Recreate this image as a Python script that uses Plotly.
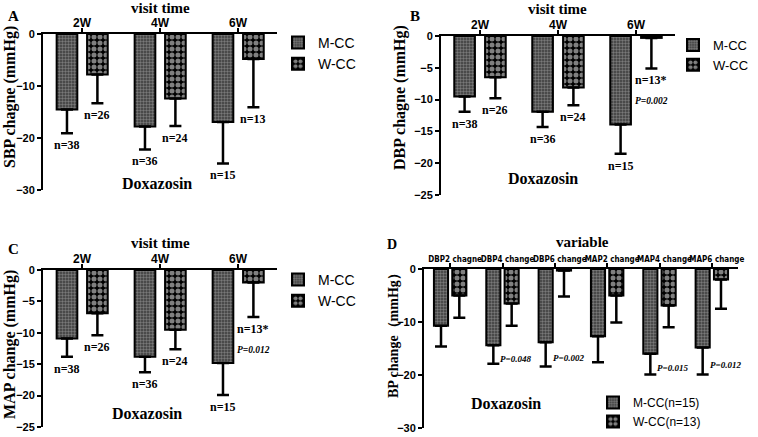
import plotly.graph_objects as go

W, H = 758, 437

# ---------------- data ----------------
weeks = ["2W", "4W", "6W"]
sbp_m = [-14.5, -17.8, -16.9]
sbp_m_sd = [4.6, 4.4, 8.0]
sbp_w = [-7.8, -12.4, -4.8]
sbp_w_sd = [5.5, 5.3, 9.3]
sbp_m_n = ["n=38", "n=36", "n=15"]
sbp_w_n = ["n=26", "n=24", "n=13"]

dbp_m = [-9.5, -11.9, -13.9]
dbp_m_sd = [2.4, 2.4, 4.6]
dbp_w = [-6.5, -8.1, -0.3]
dbp_w_sd = [3.3, 2.8, 4.8]
dbp_m_n = ["n=38", "n=36", "n=15"]
dbp_w_n = ["n=26", "n=24", "n=13*"]

map_m = [-10.9, -13.8, -14.8]
map_m_sd = [2.9, 2.5, 5.1]
map_w = [-6.9, -9.5, -2.0]
map_w_sd = [3.5, 3.1, 5.5]
map_m_n = ["n=38", "n=36", "n=15"]
map_w_n = ["n=26", "n=24", "n=13*"]

variables = ["DBP2 chagne", "DBP4 change", "DBP6 change",
             "MAP2 change", "MAP4 change", "MAP6 change"]
var_m = [-10.7, -14.4, -13.8, -12.7, -16.0, -14.8]
var_m_sd = [3.9, 3.5, 4.6, 4.9, 3.9, 5.1]
var_w = [-5.0, -6.5, -0.3, -5.0, -6.9, -2.0]
var_w_sd = [4.2, 4.2, 4.9, 5.1, 4.1, 5.5]
var_p = ["", "P=0.048", "P=0.002", "", "P=0.015", "P=0.012"]

SERIF = "Liberation Serif"
SANS = "Liberation Sans"
NARROW = "DejaVu Sans Condensed, Liberation Sans"

M_PATTERN = dict(shape=".", bgcolor="#3a3a3a", fgcolor="#b8b8b8", size=3, solidity=0.5)
W_PATTERN = dict(shape=".", bgcolor="#000000", fgcolor="#ffffff", size=6, solidity=0.55)


def px_x(p):
    return p / W


def px_y(p):
    return 1 - p / H


fig = go.Figure()

# panel geometry (pixels) : x0, x1, y_top, y_bottom
panels = [
    dict(k="", x=(43, 277), y=(34, 190), rng=[-30, 0], dt=10),
    dict(k="2", x=(441, 675), y=(36, 195), rng=[-25, 0], dt=5),
    dict(k="3", x=(43, 277), y=(270, 427), rng=[-25, 0], dt=5),
    dict(k="4", x=(424, 738), y=(269, 428), rng=[-30, 0], dt=10),
]

series = [
    (weeks, sbp_m, sbp_m_sd, sbp_w, sbp_w_sd, "M-CC", "W-CC"),
    (weeks, dbp_m, dbp_m_sd, dbp_w, dbp_w_sd, "M-CC", "W-CC"),
    (weeks, map_m, map_m_sd, map_w, map_w_sd, "M-CC", "W-CC"),
    (variables, var_m, var_m_sd, var_w, var_w_sd, "M-CC(n=15)", "W-CC(n=13)"),
]

bw = {"": 0.265, "2": 0.265, "3": 0.265, "4": 0.27}
offm = {"": -0.325, "2": -0.33, "3": -0.325, "4": -0.31}
offw = {"": 0.065, "2": 0.065, "3": 0.065, "4": 0.04}

layout_axes = {}
for i, (pn, (cats, m, msd, w, wsd, nm, nw)) in enumerate(zip(panels, series)):
    k = pn["k"]
    xa = "x" + k
    ya = "y" + k
    leg = "legend" + k if k else "legend"
    fig.add_trace(go.Bar(
        x=cats, y=m, name=nm, xaxis=xa, yaxis=ya, legend=leg,
        width=bw[k], offset=offm[k],
        marker=dict(pattern=M_PATTERN, line=dict(color="black", width=2)),
        error_y=dict(type="data", symmetric=False, array=[0] * len(m), arrayminus=msd,
                     color="black", thickness=2.5, width=6),
    ))
    fig.add_trace(go.Bar(
        x=cats, y=w, name=nw, xaxis=xa, yaxis=ya, legend=leg,
        width=bw[k], offset=offw[k],
        marker=dict(pattern=W_PATTERN, line=dict(color="black", width=2)),
        error_y=dict(type="data", symmetric=False, array=[0] * len(w), arrayminus=wsd,
                     color="black", thickness=2.5, width=6),
    ))
    xdom = [px_x(pn["x"][0]), px_x(pn["x"][1])]
    ydom = [px_y(pn["y"][1]), px_y(pn["y"][0])]
    layout_axes["xaxis" + k] = dict(
        domain=xdom, anchor=ya, side="top", type="category", automargin=False,
        categoryorder="array", categoryarray=cats, range=[-0.5, len(cats) - 0.5],
        showline=True, linecolor="black", linewidth=2, mirror=False,
        ticks="outside", ticklen=4, tickwidth=2, tickcolor="black", tickangle=0,
        ticklabelstandoff=-4 if k != "4" else -2,
        ticklabelshift=0 if k != "4" else 5,
        showgrid=False, zeroline=False,
        tickfont=(dict(family=SANS, size=12, color="black", weight="bold") if k != "4"
                  else dict(family=NARROW, size=8, color="black", weight="bold")),
    )
    layout_axes["yaxis" + k] = dict(
        domain=ydom, anchor=xa, range=pn["rng"], dtick=pn["dt"], automargin=False,
        showline=True, linecolor="black", linewidth=2,
        ticks="outside", ticklen=4, tickwidth=2, tickcolor="black",
        showgrid=False, zeroline=False,
        tickfont=dict(family=SANS, size=11, color="black", weight="bold"),
    )

fig.update_layout(**layout_axes)

# legends
leg_common = dict(xanchor="left", yanchor="top", bgcolor="rgba(0,0,0,0)",
                  font=dict(family=SANS, size=14, color="black"),
                  tracegroupgap=0, itemwidth=30)
fig.update_layout(
    legend=dict(x=px_x(278), y=px_y(27), **leg_common),
    legend2=dict(x=px_x(673), y=px_y(30), **{**leg_common, "font": dict(family=SANS, size=13, color="black")}),
    legend3=dict(x=px_x(278), y=px_y(264), **leg_common),
    legend4=dict(x=px_x(593), y=px_y(388), **{**leg_common, "font": dict(family=SANS, size=12, color="black")}),
    barmode="overlay",
    width=W, height=H,
    margin=dict(l=0, r=0, t=0, b=0, autoexpand=False),
    paper_bgcolor="white", plot_bgcolor="white",
    showlegend=True,
)

ann = []


def text(x, y, s, size=15, fam=SERIF, bold=True, italic=False, angle=0, xa="center", ya="middle"):
    ann.append(dict(x=px_x(x), y=px_y(y), xref="paper", yref="paper", text=s, showarrow=False,
                    xanchor=xa, yanchor=ya, textangle=angle,
                    font=dict(family=fam, size=size, color="black",
                              weight="bold" if bold else "normal",
                              style="italic" if italic else "normal")))


# titles
text(160, 8, "visit time", 15)
text(557, 9, "visit time", 15)
text(160, 243, "visit time", 15)
text(582, 242, "variable", 15)
text(13, 16, "A", 15)
text(415, 16, "B", 15)
text(13, 249, "C", 15)
text(392, 244, "D", 14)
text(157, 183, "Doxazosin", 16)
text(543, 178, "Doxazosin", 16)
text(147, 413, "Doxazosin", 16)
text(506, 403, "Doxazosin", 16)
text(10, 97, "SBP chagne (mmHg)", 16, angle=-90)
text(400, 98, "DBP chagne (mmHg)", 16, angle=-90)
text(10, 345, "MAP change (mmHg)", 16, angle=-90)
text(393, 332, "BP change（mmHg）", 14, angle=-90)

# n labels under error bars (data coords)
n_sets = [
    ("", weeks, sbp_m, sbp_m_sd, sbp_w, sbp_w_sd, sbp_m_n, sbp_w_n),
    ("2", weeks, dbp_m, dbp_m_sd, dbp_w, dbp_w_sd, dbp_m_n, dbp_w_n),
    ("3", weeks, map_m, map_m_sd, map_w, map_w_sd, map_m_n, map_w_n),
]
for k, cats, m, msd, w, wsd, mn, wn in n_sets:
    for j in range(len(cats)):
        for val, sd, lab, off in ((m[j], msd[j], mn[j], offm[k]), (w[j], wsd[j], wn[j], offw[k])):
            ann.append(dict(x=j + off + bw[k] / 2, y=val - sd, xref="x" + k, yref="y" + k,
                            text=lab, showarrow=False, xanchor="center", yanchor="top", yshift=-3,
                            font=dict(family=SERIF, size=12, color="black", weight="bold")))

# P values for panels B and C (below the W-CC 6W label)
for k, pv in (("2", "P=0.002"), ("3", "P=0.012")):
    wv = dbp_w if k == "2" else map_w
    ws = dbp_w_sd if k == "2" else map_w_sd
    ann.append(dict(x=2 + offw[k] + bw[k] / 2, y=wv[2] - ws[2], xref="x" + k, yref="y" + k,
                    text=pv, showarrow=False, xanchor="center", yanchor="top", yshift=-26,
                    font=dict(family=SERIF, size=9.5, color="black", weight="bold", style="italic")))

# P values panel D
for j, pv in enumerate(var_p):
    if pv:
        ann.append(dict(x=j + offm["4"] + bw["4"], y=var_m[j] - var_m_sd[j] / 2, xref="x4", yref="y4",
                        text=pv, showarrow=False, xanchor="left", yanchor="middle", xshift=-2, yshift=-4,
                        font=dict(family=SERIF, size=9, color="black", weight="bold", style="italic")))

fig.update_layout(annotations=ann)
fig.write_html("out.html", config={"displayModeBar": False})

# remove the default page margin so the figure sits at the window's top-left corner
with open("out.html", "r", encoding="utf-8") as f:
    html = f.read()
html = html.replace("<head>", "<head><style>html,body{margin:0;padding:0;overflow:hidden;}</style>", 1)
with open("out.html", "w", encoding="utf-8") as f:
    f.write(html)
